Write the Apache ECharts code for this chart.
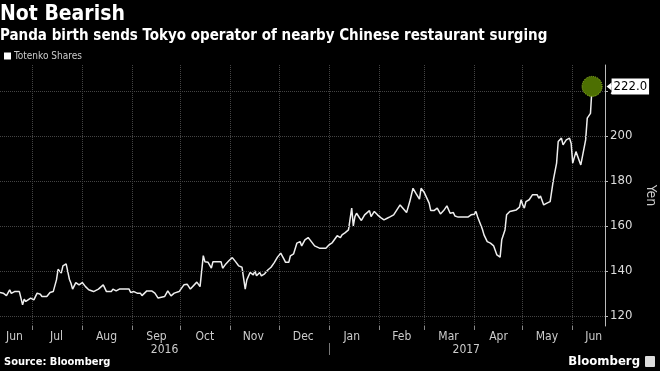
<!DOCTYPE html>
<html>
<head>
<meta charset="utf-8">
<script src="https://cdn.jsdelivr.net/npm/echarts@6/dist/echarts.min.js"></script>
<style>html,body{margin:0;padding:0;background:#000;}#c{width:660px;height:371px;}</style>
</head>
<body>
<div id="c"></div>
<script>
// ---- data ----
const axisStart = '2016-06-11';
const axisEnd = '2017-06-21';
const dates = ['2016-06-11','2016-06-13','2016-06-15','2016-06-17','2016-06-18','2016-06-20','2016-06-23','2016-06-24','2016-06-25','2016-06-26','2016-06-27','2016-06-30','2016-07-02','2016-07-04','2016-07-06','2016-07-07','2016-07-10','2016-07-12','2016-07-14','2016-07-16','2016-07-17','2016-07-19','2016-07-20','2016-07-22','2016-07-24','2016-07-25','2016-07-26','2016-07-28','2016-07-30','2016-08-01','2016-08-03','2016-08-05','2016-08-08','2016-08-11','2016-08-14','2016-08-16','2016-08-19','2016-08-20','2016-08-22','2016-08-24','2016-08-30','2016-08-31','2016-09-02','2016-09-04','2016-09-06','2016-09-07','2016-09-10','2016-09-13','2016-09-15','2016-09-17','2016-09-18','2016-09-21','2016-09-23','2016-09-25','2016-09-27','2016-09-30','2016-10-01','2016-10-03','2016-10-05','2016-10-07','2016-10-11','2016-10-13','2016-10-15','2016-10-16','2016-10-18','2016-10-20','2016-10-21','2016-10-26','2016-10-27','2016-10-29','2016-10-31','2016-11-02','2016-11-04','2016-11-06','2016-11-08','2016-11-10','2016-11-11','2016-11-13','2016-11-15','2016-11-16','2016-11-17','2016-11-19','2016-11-20','2016-11-22','2016-11-24','2016-11-26','2016-11-28','2016-11-30','2016-12-02','2016-12-04','2016-12-05','2016-12-07','2016-12-08','2016-12-10','2016-12-12','2016-12-14','2016-12-15','2016-12-17','2016-12-19','2016-12-21','2016-12-23','2016-12-26','2016-12-30','2017-01-01','2017-01-03','2017-01-04','2017-01-06','2017-01-08','2017-01-09','2017-01-11','2017-01-13','2017-01-15','2017-01-16','2017-01-17','2017-01-18','2017-01-20','2017-01-21','2017-01-23','2017-01-26','2017-01-27','2017-01-29','2017-01-31','2017-02-02','2017-02-04','2017-02-06','2017-02-08','2017-02-10','2017-02-12','2017-02-14','2017-02-15','2017-02-18','2017-02-20','2017-02-22','2017-02-24','2017-02-26','2017-02-27','2017-03-01','2017-03-02','2017-03-04','2017-03-05','2017-03-07','2017-03-09','2017-03-11','2017-03-13','2017-03-15','2017-03-17','2017-03-19','2017-03-20','2017-03-22','2017-03-28','2017-03-30','2017-04-01','2017-04-02','2017-04-03','2017-04-05','2017-04-06','2017-04-07','2017-04-09','2017-04-11','2017-04-12','2017-04-13','2017-04-15','2017-04-16','2017-04-17','2017-04-18','2017-04-20','2017-04-21','2017-04-23','2017-04-24','2017-04-27','2017-04-29','2017-04-30','2017-05-01','2017-05-02','2017-05-03','2017-05-05','2017-05-07','2017-05-10','2017-05-11','2017-05-12','2017-05-14','2017-05-16','2017-05-18','2017-05-19','2017-05-20','2017-05-22','2017-05-23','2017-05-25','2017-05-26','2017-05-28','2017-05-30','2017-05-31','2017-06-01','2017-06-03','2017-06-04','2017-06-06','2017-06-07','2017-06-09','2017-06-10','2017-06-12','2017-06-13'];
const prices = [130.4,130.1,129.0,131.6,130.0,130.8,130.8,127.9,124.9,127.4,126.4,127.9,127.1,130.1,129.6,128.6,128.6,130.4,130.8,136.0,140.7,139.0,142.2,143.1,136.3,134.5,131.9,134.8,133.8,134.8,133.0,131.6,130.8,131.9,133.8,130.8,130.8,131.9,131.1,131.9,131.9,130.4,130.8,130.1,130.1,129.0,131.1,131.1,130.1,127.9,128.6,128.6,131.1,128.9,130.1,130.8,131.1,133.8,134.1,131.9,135.0,133.0,146.8,144.1,143.8,141.2,144.1,144.1,141.2,143.1,144.6,145.9,144.1,142.2,141.6,131.9,136.0,139.3,138.2,140.0,137.8,139.3,137.8,138.7,140.4,141.6,143.7,146.1,147.9,145.2,143.8,143.8,146.7,147.6,152.3,153.0,151.1,153.8,154.8,153.0,151.1,150.1,150.1,151.6,152.6,153.0,155.6,154.8,156.0,157.0,158.2,167.9,160.0,164.1,165.6,163.4,162.4,164.9,166.8,164.1,166.4,164.9,163.7,162.7,163.4,164.1,164.9,167.1,169.3,168.6,165.9,170.8,176.7,174.2,171.9,176.7,174.8,174.5,170.1,166.8,166.8,167.9,165.3,166.8,168.9,165.6,165.9,164.4,163.9,163.9,164.9,165.2,166.4,164.1,160.4,158.5,156.0,153.0,152.3,153.0,151.1,147.1,146.7,146.1,153.8,158.2,164.9,166.4,166.8,167.1,168.3,171.6,169.3,167.9,170.8,171.6,173.8,173.8,172.3,173.3,169.3,170.1,170.8,170.1,180.4,187.9,197.5,199.0,196.0,198.2,199.0,196.7,187.9,193.0,192.6,187.1,186.7,198.2,207.9,210.0,222.0];
const monthLabelDates = ['2016-06-20','2016-07-16','2016-08-16','2016-09-16','2016-10-16','2016-11-15','2016-12-16','2017-01-15','2017-02-15','2017-03-16','2017-04-16','2017-05-16','2017-06-14'];
const monthNames = ['Jan','Feb','Mar','Apr','May','Jun','Jul','Aug','Sep','Oct','Nov','Dec'];
const yearLabelDates = ['2016-09-21','2017-03-27'];
const yearSeparatorDates = ['2017-01-01'];
const yTicks = [120,140,160,180,200,220];
const yMin = 115.5, yMax = 231.5;

// ---- categories: every calendar day on the axis ----
const categories = [];
for (let t = Date.parse(axisStart); t <= Date.parse(axisEnd); t += 86400000) {
  categories.push(new Date(t).toISOString().slice(0, 10));
}
const seriesData = dates.map((d, i) => [d, prices[i]]);
const lastIdx = dates.length - 1;

const FONT = 'DejaVu Sans Condensed';
const chart = echarts.init(document.getElementById('c'), null, {renderer: 'canvas'});
const gridColor = '#444';
chart.setOption({
  backgroundColor: '#000',
  animation: false,
  title: [
    {text: 'Not Bearish', left: 0, top: 4, padding: 0, textStyle: {color: '#fff', fontSize: 21, fontWeight: 'bold', fontFamily: FONT}},
    {text: 'Panda birth sends Tokyo operator of nearby Chinese restaurant surging', left: 0, top: 29, padding: 0, textStyle: {color: '#fff', fontSize: 15, fontWeight: 'bold', fontFamily: FONT}},
    {text: 'Source: Bloomberg', left: 4, top: 357, padding: 0, textStyle: {color: '#fff', fontSize: 11, fontWeight: 'bold', fontFamily: FONT}},
    {text: 'Bloomberg', right: 20, top: 355, padding: 0, textStyle: {color: '#fff', fontSize: 13, fontWeight: 'bold', fontFamily: FONT}}
  ],
  graphic: [
    {type: 'rect', right: 5, top: 356, shape: {width: 10, height: 11, r: 1}, style: {fill: '#ddd'}}
  ],
  legend: {
    left: 4, top: 51, padding: 0, itemWidth: 7, itemHeight: 7, itemGap: 4, icon: 'rect',
    textStyle: {color: '#ccc', fontSize: 10, fontFamily: FONT, padding: [0, 0, 0, -2]},
    data: [{name: 'Totenko Shares', itemStyle: {color: '#fff'}}]
  },
  grid: {left: 0, right: 55, top: 65, bottom: 45, containLabel: false, outerBoundsMode: 'none'},
  xAxis: [
    {
      type: 'category', data: categories, boundaryGap: false,
      axisLine: {show: false},
      axisTick: {show: true, length: 4, lineStyle: {color: '#888'}, interval: (i, v) => v.slice(8) === '01'},
      splitLine: {show: true, interval: (i, v) => v.slice(8) === '01', lineStyle: {color: gridColor, type: 'dotted', width: 1}},
      axisLabel: {
        interval: (i, v) => monthLabelDates.includes(v),
        formatter: v => monthNames[+v.slice(5, 7) - 1],
        color: '#ccc', fontSize: 12, margin: 5, fontFamily: FONT
      }
    },
    {
      type: 'category', data: categories, boundaryGap: false, position: 'bottom', offset: 17,
      axisLine: {show: false},
      axisTick: {show: true, length: 12, lineStyle: {color: '#777'}, interval: (i, v) => yearSeparatorDates.includes(v)},
      splitLine: {show: false},
      axisLabel: {
        interval: (i, v) => yearLabelDates.includes(v),
        formatter: v => v.slice(0, 4),
        color: '#ccc', fontSize: 12, margin: 1, fontFamily: FONT
      }
    }
  ],
  yAxis: {
    type: 'value', position: 'right', min: yMin, max: yMax,
    axisLine: {show: true, lineStyle: {color: '#bbb'}},
    axisTick: {show: true, length: 3, lineStyle: {color: '#bbb'}},
    splitLine: {show: false},
    axisLabel: {
      showMinLabel: false, showMaxLabel: false, margin: 5,
      formatter: v => yTicks.includes(v) ? String(v) : '',
      color: '#ddd', fontSize: 13, fontFamily: FONT
    },
    name: 'Yen', nameLocation: 'middle', nameGap: 37, nameRotate: -90,
    nameTextStyle: {color: '#ccc', fontSize: 14, fontFamily: FONT}
  },
  series: [{
    name: 'Totenko Shares', type: 'line', data: seriesData,
    showSymbol: false, symbol: 'none',
    lineStyle: {color: '#eee', width: 1.5},
    itemStyle: {color: '#fff'},
    markLine: {
      silent: true, symbol: 'none', label: {show: false},
      lineStyle: {color: gridColor, type: 'dotted', width: 1},
      data: yTicks.map(v => ({yAxis: v}))
    },
    markPoint: {
      silent: true,
      data: [
        {coord: [dates[lastIdx], prices[lastIdx]], symbol: 'triangle', symbolRotate: 90, symbolSize: [8, 5], symbolOffset: [17, 0],
         itemStyle: {color: '#fff'}, label: {show: false}},
        {coord: [dates[lastIdx], prices[lastIdx]], value: prices[lastIdx], symbol: 'circle', symbolSize: 20,
         itemStyle: {color: '#4d6f02', borderColor: '#a4d02a', borderWidth: 1, borderType: 'dotted'},
         label: {show: true, position: 'right', distance: 9,
                 formatter: p => p.value.toFixed(1),
                 backgroundColor: '#fff', color: '#000', padding: [2, 2, 1, 2],
                 fontSize: 13, fontFamily: FONT}}
      ]
    }
  }]
});
</script>
</body>
</html>
